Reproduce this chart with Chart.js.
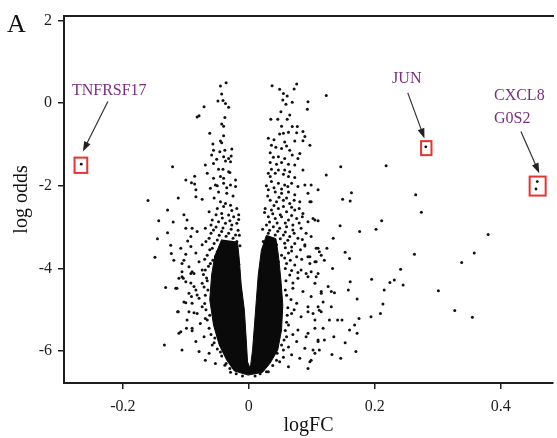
<!DOCTYPE html>
<html>
<head>
<meta charset="utf-8">
<script src="https://cdn.jsdelivr.net/npm/chart.js@4"></script>
<style>
  body { margin: 0; background: #fff; }
  #wrap { width: 557px; height: 438px; position: relative; }
</style>
</head>
<body>
<div id="wrap"><canvas id="chartVolcano"></canvas></div>
<script>
// axis ticks
const xTicks = [-0.2, 0, 0.2, 0.4];
const yTicks = [-6, -4, -2, 0, 2];

// labelled genes: [logFC], [log odds]
const genes = ['TNFRSF17', 'JUN', 'CXCL8', 'G0S2'];
const geneFC = [-0.266, 0.281, 0.458, 0.456];
const geneOdds = [-1.48, -1.06, -1.90, -2.08];

// outline of the solid black bulk of genes at the bottom of the V
const coreOutline = [
    [-0.043, -3.30], [-0.054, -3.70], [-0.059, -4.16], [-0.062, -4.76], [-0.056, -5.37], [-0.047, -5.85],
    [-0.035, -6.22], [-0.023, -6.48], [-0.001, -6.58], [0.022, -6.51], [0.034, -6.29], [0.046, -5.97],
    [0.052, -5.49], [0.054, -4.89], [0.051, -4.28], [0.047, -3.68], [0.043, -3.28], [0.028, -3.20],
    [0.020, -3.56], [0.015, -4.16], [0.012, -4.76], [0.009, -5.37], [0.006, -5.97], [0.003, -6.34],
    [0.001, -6.38], [-0.002, -6.26], [-0.004, -5.73], [-0.007, -5.01], [-0.012, -4.40], [-0.015, -3.80],
    [-0.018, -3.35]
];

// points around the bulk: [logFC, log odds]
const leftArm = [
    [-0.045, 0.41], [-0.036, 0.49], [-0.043, 0.22], [-0.049, 0.05], [-0.041, 0.06], [-0.037, -0.01], [-0.032, -0.10],
    [-0.071, -0.09], [-0.079, -0.31], [-0.038, -0.35], [-0.043, -0.51], [-0.040, -0.56], [-0.062, -0.73], [-0.040, -0.79],
    [-0.045, -0.92], [-0.043, -0.96], [-0.057, -0.99], [-0.056, -1.14], [-0.046, -1.18], [-0.038, -1.14], [-0.027, -1.11],
    [-0.059, -1.26], [-0.040, -1.30], [-0.032, -1.34], [-0.028, -1.28], [-0.051, -1.36], [-0.037, -1.40], [-0.029, -1.42],
    [-0.069, -1.50], [-0.056, -1.46], [-0.048, -1.60], [-0.041, -1.60], [-0.030, -1.68], [-0.040, -1.82],
    [-0.066, -1.70], [-0.056, -1.82], [-0.045, -1.78], [-0.032, -1.66], [-0.021, -1.86], [-0.061, -2.06], [-0.053, -1.98],
    [-0.048, -2.15], [-0.040, -1.94], [-0.029, -1.98], [-0.035, -2.18], [-0.021, -2.02], [-0.045, -2.39], [-0.037, -2.43],
    [-0.029, -2.47], [-0.050, -2.55], [-0.019, -2.55], [-0.063, -2.63], [-0.043, -2.67], [-0.032, -2.71], [-0.024, -2.75],
    [-0.058, -2.83], [-0.048, -2.87], [-0.037, -2.91], [-0.027, -2.95], [-0.019, -2.91], [-0.069, -3.03], [-0.056, -3.07],
    [-0.043, -3.11], [-0.032, -3.15], [-0.021, -3.19], [-0.063, -3.27], [-0.050, -3.31], [-0.040, -3.35], [-0.029, -3.39],
    [-0.019, -3.35], [-0.074, -3.43], [-0.058, -3.51], [-0.045, -3.55], [-0.035, -3.60], [-0.024, -3.63], [-0.066, -3.68],
    [-0.053, -3.72], [-0.061, -3.88], [-0.069, -4.04], [-0.048, -3.84],
    [-0.050, -2.00], [-0.035, -2.05], [-0.025, -2.25], [-0.055, -2.30], [-0.040, -2.50], [-0.027, -2.60], [-0.016, -2.70],
    [-0.052, -2.70], [-0.042, -2.78], [-0.030, -2.85], [-0.016, -2.82], [-0.060, -2.95],
    [-0.052, -3.00], [-0.041, -3.02], [-0.028, -3.05], [-0.017, -3.08], [-0.060, -3.15], [-0.047, -3.20], [-0.036, -3.22],
    [-0.025, -3.27], [-0.015, -3.20], [-0.068, -3.35], [-0.055, -3.40], [-0.044, -3.44], [-0.033, -3.47], [-0.022, -3.50],
    [-0.014, -3.45], [-0.062, -3.55], [-0.050, -3.60], [-0.040, -3.66], [-0.029, -3.70], [-0.019, -3.72], [-0.070, -3.78],
    [-0.057, -3.80], [-0.045, -3.76], [-0.016, -3.90], [-0.064, -3.95], [-0.055, -4.00]
];
const rightArm = [
    [0.037, 0.42], [0.076, 0.46], [0.072, 0.34], [0.049, 0.33], [0.055, 0.23], [0.061, 0.17], [0.054, 0.07], [0.059, -0.03],
    [0.069, 0.02], [0.051, -0.21], [0.065, -0.29], [0.035, -0.39], [0.046, -0.39], [0.061, -0.39], [0.069, -0.57],
    [0.077, -0.57], [0.052, -0.56], [0.055, -0.73], [0.049, -0.75], [0.063, -0.71], [0.076, -0.72], [0.031, -0.85],
    [0.040, -0.89], [0.057, -0.94], [0.073, -0.92], [0.086, -0.91], [0.036, -1.02], [0.043, -1.07], [0.052, -1.10],
    [0.060, -1.04], [0.065, -1.14], [0.081, -1.22], [0.069, -1.26], [0.034, -1.20], [0.039, -1.31], [0.047, -1.30],
    [0.057, -1.34], [0.078, -1.34], [0.034, -1.44], [0.044, -1.48], [0.052, -1.44], [0.063, -1.48], [0.073, -1.50],
    [0.036, -1.60], [0.047, -1.62], [0.057, -1.62], [0.065, -1.66], [0.042, -1.70], [0.055, -1.72], [0.063, -1.78],
    [0.073, -1.80], [0.034, -1.78], [0.031, -1.70], [0.036, -1.90], [0.047, -1.94], [0.057, -1.98], [0.068, -1.94],
    [0.078, -2.02], [0.089, -1.98], [0.031, -2.10], [0.042, -2.15], [0.052, -2.18], [0.063, -2.15], [0.073, -2.22],
    [0.094, -2.18], [0.034, -2.35], [0.044, -2.39], [0.055, -2.35], [0.065, -2.43], [0.081, -2.39], [0.099, -2.39],
    [0.026, -2.55], [0.036, -2.59], [0.047, -2.55], [0.060, -2.63], [0.073, -2.59], [0.086, -2.67], [0.031, -2.75],
    [0.042, -2.79], [0.052, -2.75], [0.063, -2.83], [0.076, -2.79], [0.094, -2.87], [0.105, -2.83], [0.028, -2.95],
    [0.039, -2.99], [0.049, -3.03], [0.060, -2.99], [0.070, -3.07], [0.083, -3.03], [0.031, -3.15], [0.042, -3.19],
    [0.055, -3.19], [0.065, -3.23], [0.078, -3.27], [0.099, -3.23], [0.023, -3.35], [0.034, -3.39], [0.044, -3.43],
    [0.057, -3.39], [0.068, -3.48], [0.089, -3.43], [0.110, -3.51], [0.026, -3.60], [0.039, -3.63], [0.052, -3.68],
    [0.063, -3.63], [0.076, -3.72], [0.094, -3.72], [0.031, -3.80], [0.047, -3.84], [0.060, -3.88], [0.073, -3.92],
    [0.105, -3.84], [0.120, -3.80], [0.083, -4.04], [0.110, -4.12], [0.094, -4.20],
    [0.028, -2.00], [0.040, -2.05], [0.052, -2.08], [0.062, -2.02], [0.030, -2.25], [0.048, -2.28], [0.060, -2.30],
    [0.072, -2.35], [0.040, -2.48], [0.055, -2.50], [0.068, -2.52], [0.080, -2.55], [0.025, -2.65], [0.038, -2.68],
    [0.050, -2.70], [0.068, -2.72], [0.085, -2.75], [0.033, -2.88], [0.045, -2.90], [0.058, -2.90], [0.070, -2.95],
    [0.080, -2.90],
    [0.022, -3.05], [0.033, -3.08], [0.046, -3.10], [0.058, -3.12], [0.072, -3.15], [0.050, -3.28], [0.062, -3.32],
    [0.073, -3.40], [0.085, -3.30], [0.058, -3.50], [0.068, -3.58], [0.082, -3.55], [0.057, -3.75], [0.066, -3.80],
    [0.084, -3.78]
];
const leftFlank = [
    [-0.084, -2.27], [-0.074, -2.33], [-0.090, -3.03], [-0.082, -3.11], [-0.092, -3.23], [-0.108, -3.51], [-0.084, -3.63],
    [-0.103, -3.80], [-0.119, -3.80], [-0.095, -3.96], [-0.079, -3.84], [-0.106, -4.20], [-0.087, -4.12], [-0.074, -4.04],
    [-0.111, -4.24], [-0.100, -4.32], [-0.116, -4.48], [-0.095, -4.60], [-0.084, -4.52], [-0.103, -4.81], [-0.090, -4.84],
    [-0.079, -4.72], [-0.113, -5.05], [-0.095, -5.05], [-0.082, -5.09], [-0.108, -5.53], [-0.090, -5.45], [-0.077, -5.33],
    [-0.084, -5.77], [-0.071, -5.65], [-0.079, -6.01], [-0.063, -6.05], [-0.069, -6.22], [-0.053, -6.30], [-0.058, -5.85],
    [-0.074, -4.93], [-0.069, -5.21], [-0.098, -5.25], [-0.087, -4.44], [-0.074, -4.36], [-0.092, -4.12], [-0.106, -4.08],
    [-0.065, -4.52], [-0.062, -5.13], [-0.054, -5.68], [-0.045, -6.02], [-0.038, -6.34], [-0.029, -6.51], [-0.067, -4.23],
    [-0.072, -4.15], [-0.066, -4.30], [-0.071, -4.45], [-0.069, -4.65], [-0.070, -4.85], [-0.068, -5.00], [-0.066, -5.25],
    [-0.063, -5.45], [-0.060, -5.60], [-0.055, -5.80], [-0.050, -5.95], [-0.043, -6.12], [-0.036, -6.30], [-0.030, -6.42],
    [-0.020, -6.55], [-0.010, -6.60], [0.010, -6.60]
];
const rightFlank = [
    [0.065, -4.16], [0.078, -4.24], [0.091, -4.12], [0.105, -4.36], [0.115, -4.60], [0.070, -4.48], [0.086, -4.56],
    [0.099, -4.68], [0.076, -4.84], [0.094, -4.93], [0.112, -5.01], [0.068, -5.09], [0.083, -5.17], [0.105, -5.25],
    [0.063, -5.37], [0.078, -5.49], [0.094, -5.57], [0.110, -5.77], [0.060, -5.65], [0.076, -5.77], [0.089, -5.93],
    [0.105, -6.05], [0.055, -5.97], [0.068, -6.09], [0.081, -6.17], [0.097, -6.26], [0.049, -6.26], [0.063, -6.38],
    [0.031, -6.50], [0.058, -4.52], [0.061, -5.13], [0.056, -5.73], [0.044, -6.22],
    [0.058, -4.00], [0.068, -4.05], [0.078, -4.10], [0.059, -4.30], [0.070, -4.35], [0.060, -4.65], [0.067, -4.75],
    [0.062, -4.95], [0.072, -5.00], [0.060, -5.30], [0.058, -5.50], [0.070, -5.60], [0.052, -5.85], [0.063, -5.90],
    [0.045, -6.05], [0.055, -6.15], [0.038, -6.35], [0.028, -6.50], [0.018, -6.55]
];
const sparseLeft = [
    [-0.160, -2.36], [-0.121, -1.54], [-0.112, -2.30], [-0.129, -2.59], [-0.143, -2.85], [-0.120, -2.88], [-0.129, -3.14],
    [-0.145, -3.28], [-0.124, -3.44], [-0.149, -3.73], [-0.123, -3.64], [-0.132, -4.46], [-0.114, -4.48], [-0.112, -5.05],
    [-0.111, -5.57], [-0.134, -5.85], [-0.106, -5.97], [-0.103, -2.70], [-0.100, -1.86], [-0.091, -1.93], [-0.086, -1.77],
    [-0.098, -2.83], [-0.100, -3.03], [-0.097, -3.34], [-0.100, -3.66], [-0.106, -3.88], [-0.104, -4.24], [-0.092, -4.35],
    [-0.100, -4.83], [-0.091, -4.68], [-0.087, -5.07], [-0.099, -5.45], [-0.090, -5.51], [-0.084, -2.10], [-0.092, -3.47],
    [-0.090, -4.08], [-0.082, -4.64], [-0.086, -1.96], [-0.082, -0.34]
];
const sparseRight = [
    [0.146, -1.54], [0.218, -1.52], [0.123, -1.74], [0.163, -2.17], [0.149, -2.33], [0.161, -2.37], [0.265, -2.22],
    [0.145, -2.97], [0.176, -3.11], [0.202, -3.05], [0.211, -2.85], [0.134, -3.27], [0.124, -3.51], [0.153, -3.61],
    [0.160, -3.76], [0.263, -3.66], [0.133, -4.00], [0.241, -4.02], [0.195, -4.26], [0.161, -4.32], [0.224, -4.34],
    [0.231, -4.28], [0.245, -4.40], [0.158, -4.52], [0.215, -4.52], [0.172, -4.74], [0.213, -4.86], [0.209, -5.09],
    [0.194, -5.17], [0.175, -5.21], [0.168, -5.37], [0.172, -5.57], [0.153, -5.80], [0.170, -6.01], [0.146, -6.17],
    [0.132, -6.08], [0.160, -5.49], [0.148, -5.25], [0.141, -5.25], [0.128, -5.25], [0.135, -5.65], [0.126, -4.44],
    [0.131, -4.56], [0.136, -4.59], [0.131, -4.93], [0.110, -2.10], [0.097, -1.02], [0.089, -0.81], [0.086, -0.69],
    [0.086, -1.62], [0.099, -1.98], [0.097, -2.39], [0.102, -2.79], [0.110, -2.85], [0.091, -3.15], [0.089, -3.46],
    [0.107, -3.51], [0.112, -3.60], [0.115, -3.68], [0.097, -3.72], [0.097, -3.88], [0.107, -3.84], [0.099, -4.08],
    [0.107, -4.20], [0.115, -4.56], [0.118, -4.81], [0.110, -4.93], [0.115, -5.05], [0.102, -5.09], [0.094, -5.05],
    [0.118, -5.45], [0.120, -5.73], [0.112, -5.97], [0.102, -5.97], [0.099, -6.22], [0.094, -6.42], [0.110, -5.73],
    [0.091, -5.65], [0.105, -5.45], [0.123, 0.18], [0.274, -2.64], [0.380, -3.18], [0.358, -3.63], [0.338, -3.86],
    [0.301, -4.54], [0.327, -5.02], [0.355, -5.18], [0.094, 0.03], [0.093, -0.15]
];

const pts = arr => arr.map(([x, y]) => ({x, y}));
const serif = 'Liberation Serif, Times New Roman, serif';
const ink = '#1e1e1e';
const purple = '#7b2e7f';

const allDots = [].concat(leftArm, rightArm, leftFlank, rightFlank, sparseLeft, sparseRight);
const geneDots = geneFC.map((x, i) => ({x, y: geneOdds[i]}));

// red boxes, arrows and purple gene names
const callouts = {
    id: 'callouts',
    afterDatasetsDraw(chart) {
        const {ctx, scales: {x, y}} = chart;
        const p = i => ({x: x.getPixelForValue(geneFC[i]), y: y.getPixelForValue(geneOdds[i])});

        function arrow(x1, y1, x2, y2) {
            const a = Math.atan2(y2 - y1, x2 - x1);
            ctx.strokeStyle = '#333';
            ctx.fillStyle = '#222';
            ctx.lineWidth = 1.2;
            ctx.beginPath();
            ctx.moveTo(x1, y1);
            ctx.lineTo(x2 - 7 * Math.cos(a), y2 - 7 * Math.sin(a));
            ctx.stroke();
            ctx.beginPath();
            ctx.moveTo(x2, y2);
            ctx.lineTo(x2 - 10 * Math.cos(a) + 3.5 * Math.sin(a), y2 - 10 * Math.sin(a) - 3.5 * Math.cos(a));
            ctx.lineTo(x2 - 10 * Math.cos(a) - 3.5 * Math.sin(a), y2 - 10 * Math.sin(a) + 3.5 * Math.cos(a));
            ctx.closePath();
            ctx.fill();
        }

        ctx.save();
        const a = p(0), b = p(1), c = p(2);

        ctx.strokeStyle = '#e8332f';
        ctx.lineWidth = 2;
        ctx.strokeRect(a.x - 6.7, a.y - 6.6, 12.7, 15.3);
        ctx.strokeRect(b.x - 4.7, b.y - 5.7, 10.4, 14);
        ctx.strokeRect(c.x - 7.6, c.y - 5, 16, 19);

        arrow(a.x + 26.6, a.y - 62.6, a.x + 1.6, a.y - 12.6);
        arrow(b.x - 18, b.y - 54, b.x - 1.3, b.y - 8.4);
        arrow(c.x - 16.3, c.y - 50, c.x + 2, c.y - 8.4);

        ctx.fillStyle = purple;
        ctx.font = '16px ' + serif;
        ctx.textBaseline = 'middle';
        ctx.textAlign = 'center';
        ctx.fillText(genes[0], a.x + 28, a.y - 73.5);
        ctx.fillText(genes[1], b.x - 19, b.y - 68);
        ctx.textAlign = 'left';
        ctx.fillText(genes[2], c.x - 43.3, c.y - 86);
        ctx.fillText(genes[3], c.x - 43.3, c.y - 63);

        // panel letter
        ctx.fillStyle = '#111';
        ctx.font = '26px ' + serif;
        ctx.textBaseline = 'alphabetic';
        ctx.fillText('A', 7, 32);
        ctx.restore();
    }
};

const cvs = document.getElementById('chartVolcano').getContext('2d');
const chartVolcano = new Chart(cvs, {
    type: 'scatter',
    data: {
        datasets: [{
            type: 'line',
            label: 'bulk',
            data: pts(coreOutline),
            showLine: true,
            fill: 'shape',
            backgroundColor: '#0a0a0a',
            borderColor: '#0a0a0a',
            borderWidth: 1,
            pointRadius: 0,
            tension: 0
        }, {
            label: 'genes',
            data: pts(allDots),
            backgroundColor: '#111',
            borderWidth: 0,
            pointRadius: 1.5
        }, {
            label: 'labelled',
            data: geneDots,
            backgroundColor: '#111',
            borderWidth: 0,
            pointRadius: 1.4
        }]
    },
    plugins: [callouts],
    options: {
        responsive: true,
        maintainAspectRatio: false,
        animation: false,
        layout: { padding: { left: 0, right: 0, top: 16, bottom: 0 } },
        plugins: {
            legend: { display: false },
            tooltip: { enabled: false }
        },
        scales: {
            x: {
                type: 'linear',
                min: -0.2934,
                max: 0.483,
                afterBuildTicks: s => { s.ticks = xTicks.map(v => ({value: v})); },
                afterFit: s => { s.height = 55; },
                grid: { drawOnChartArea: false, drawTicks: true, tickLength: 6, color: ink, lineWidth: 1.5 },
                border: { display: true, color: ink, width: 2 },
                ticks: {
                    padding: 8,
                    color: ink,
                    font: { family: serif, size: 16 },
                    callback: v => String(v)
                },
                title: {
                    display: true,
                    text: 'logFC',
                    color: '#111',
                    font: { family: serif, size: 20 },
                    padding: { top: 0, bottom: 0 }
                }
            },
            x2: {
                type: 'linear',
                position: 'top',
                min: -0.2934,
                max: 0.483,
                afterFit: s => { s.height = 0; },
                grid: { display: false, drawTicks: false },
                ticks: { display: false },
                border: { display: true, color: ink, width: 2 }
            },
            y: {
                type: 'linear',
                min: -6.771,
                max: 2.104,
                afterBuildTicks: s => { s.ticks = yTicks.map(v => ({value: v})); },
                afterFit: s => { s.width = 64; },
                grid: { drawOnChartArea: false, drawTicks: true, tickLength: 6, color: ink, lineWidth: 1.5 },
                border: { display: true, color: ink, width: 2 },
                ticks: {
                    padding: 6,
                    color: ink,
                    font: { family: serif, size: 16 },
                    callback: v => String(v)
                },
                title: {
                    display: true,
                    text: 'log odds',
                    color: '#111',
                    font: { family: serif, size: 20 },
                    padding: { top: 10, bottom: 0 }
                }
            }
        }
    }
});
</script>
</body>
</html>
